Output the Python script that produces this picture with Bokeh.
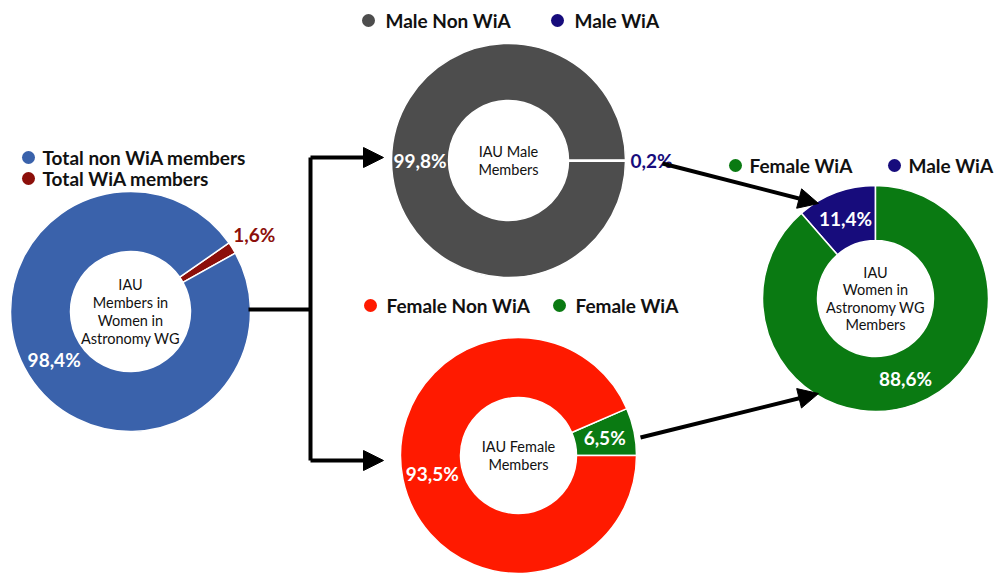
import math
from bokeh.plotting import figure
from bokeh.models import Range1d, ColumnDataSource, Arrow, NormalHead
from bokeh.core.properties import value
from bokeh.embed import file_html
from bokeh.resources import INLINE

# ---------------- data ----------------
total_labels = ["Total WiA members", "Total non WiA members"]
total_values = [1.6, 98.4]
male_labels = ["Male WiA", "Male Non WiA"]
male_values = [0.2, 99.8]
female_labels = ["Female WiA", "Female Non WiA"]
female_values = [6.5, 93.5]
wia_labels = ["Male WiA", "Female WiA"]
wia_values = [11.4, 88.6]

total_title = ["IAU", "Members in", "Women in", "Astronomy WG"]
male_title = ["IAU Male", "Members"]
female_title = ["IAU Female", "Members"]
wia_title = ["IAU", "Women in", "Astronomy WG", "Members"]

# legend order as shown in the picture
total_legend = ["Total non WiA members", "Total WiA members"]
male_legend = ["Male Non WiA", "Male WiA"]
female_legend = ["Female Non WiA", "Female WiA"]
wia_legend = ["Female WiA", "Male WiA"]

# ---------------- style ----------------
BLUE = "#3a62ab"
DARKRED = "#8c0f0a"
GREY = "#4d4d4d"
NAVY = "#170c7c"
RED = "#ff1a00"
GREEN = "#0a7a12"
COLOR = {
    "Total WiA members": DARKRED, "Total non WiA members": BLUE,
    "Male WiA": NAVY, "Male Non WiA": GREY,
    "Female WiA": GREEN, "Female Non WiA": RED,
}
FONT = "Lato"

W, H = 995, 574
p = figure(width=W, height=H, output_backend="svg", toolbar_location=None,
           x_range=Range1d(0, W), y_range=Range1d(0, H),
           min_border=0, outline_line_color=None, background_fill_color="white",
           border_fill_color="white")
p.axis.visible = False
p.grid.visible = False

SY = lambda s: H - s  # screen y -> data y


def pct(v):
    return f"{v:.1f}".replace(".", ",") + "%"


def donut(cx, cy, R, r, start_deg, labels, values, outside, title, title_gap,
          title_size):
    cy = SY(cy)
    total = sum(values)
    a = math.radians(start_deg)
    starts, ends, cols = [], [], []
    lx, ly, lt, lc = [], [], [], []
    for lab, v, out in zip(labels, values, outside):
        span = 2 * math.pi * v / total
        starts.append(a)
        ends.append(a + span)
        cols.append(COLOR[lab])
        mid = a + span / 2
        rad = R + 26 if out else (R + r) / 2
        lx.append(cx + rad * math.cos(mid))
        ly.append(cy + rad * math.sin(mid))
        lt.append(pct(v))
        lc.append(COLOR[lab] if out else "white")
        a += span
    src = ColumnDataSource(dict(x=[cx] * len(values), y=[cy] * len(values),
                                start=starts, end=ends, color=cols))
    p.annular_wedge(x="x", y="y", inner_radius=r, outer_radius=R,
                    start_angle="start", end_angle="end", fill_color="color",
                    line_color="white", line_width=1.5, source=src)
    lsrc = ColumnDataSource(dict(x=lx, y=ly, text=lt, color=lc))
    p.text(x="x", y="y", text="text", text_color="color", source=lsrc,
           text_font=value(FONT), text_font_style="bold",
           text_font_size="19px", text_align="center",
           text_baseline="middle")
    n = len(title)
    ty = [cy + (n - 1) / 2 * title_gap - i * title_gap for i in range(n)]
    tsrc = ColumnDataSource(dict(x=[cx] * n, y=ty, text=title))
    p.text(x="x", y="y", text="text", source=tsrc, text_color="#111111",
           text_font=value(FONT), text_font_size=title_size,
           text_align="center", text_baseline="middle")


def legend(items, xs, ys, text_dx=15):
    ys = [SY(v) for v in ys]
    p.scatter(x=xs, y=ys, size=13, marker="circle",
              fill_color=[COLOR[i] for i in items], line_color=None)
    src = ColumnDataSource(dict(x=[x + text_dx for x in xs], y=ys, text=items))
    p.text(x="x", y="y", text="text", source=src, text_color="#111111",
           text_font=value(FONT), text_font_style="bold",
           text_font_size="19px", text_align="left", text_baseline="middle")


# donuts
donut(130, 311, 120, 60, 29.1, total_labels, total_values, [True, False],
      total_title, 18, "14.5px")
donut(508, 160, 117, 60, -0.36, male_labels, male_values, [True, False],
      male_title, 17.5, "14.5px")
donut(518, 455, 118, 58, 0, female_labels, female_values, [False, False],
      female_title, 18, "14.5px")
donut(875, 298, 113, 58, 90, wia_labels, wia_values, [False, False],
      wia_title, 17.5, "14.5px")

# legends
legend(total_legend, [28, 28], [157, 178], 14)
legend(male_legend, [368, 557], [20, 20], 17)
legend(female_legend, [370, 559], [305, 305], 16)
legend(wia_legend, [735, 894], [165, 165], 14)

# connectors
p.multi_line(xs=[[248, 310], [310, 310]], ys=[[SY(309), SY(309)], [SY(157), SY(460)]],
             line_color="black", line_width=4)
for (xs_, ys_, xe, ye) in [(310, 157, 383, 157), (310, 460, 383, 460),
                           (662, 163, 818, 203), (640, 437, 818, 393)]:
    p.add_layout(Arrow(end=NormalHead(size=20, fill_color="black", line_color="black"),
                       x_start=xs_, y_start=SY(ys_), x_end=xe, y_end=SY(ye),
                       line_color="black", line_width=4))

open("out.html", "w").write(file_html(p, INLINE))
